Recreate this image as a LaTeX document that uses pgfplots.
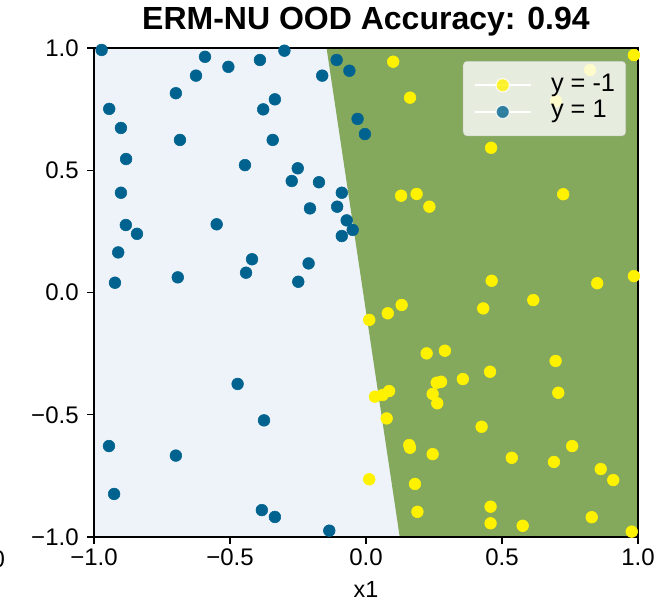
\documentclass[border=0pt]{standalone}
\usepackage{fontspec}
\setmainfont{Liberation Sans}
\usepackage{pgfplots}
\pgfplotsset{compat=1.18}
\definecolor{lightreg}{RGB}{238,243,250}
\definecolor{greenreg}{RGB}{132,168,92}
\definecolor{ptblue}{RGB}{0,99,143}
\definecolor{ptyellow}{RGB}{255,242,0}
\begin{document}
\begin{tikzpicture}
\begin{axis}[
  scale only axis, width=408pt, height=366.75pt,
  xmin=-1, xmax=1, ymin=-1, ymax=1,
  axis background/.style={fill=lightreg},
  axis on top,
  axis line style={line width=0.9pt, black},
  xtick={-1,-0.5,0,0.5,1}, ytick={-1,-0.5,0,0.5,1},
  xticklabels={−1.0,−0.5,0.0,0.5,1.0},
  yticklabels={−1.0,−0.5,0.0,0.5,1.0},
  tick label style={font=\fontsize{18}{21}\selectfont},
  yticklabel style={xshift=-3pt},
  tick align=outside, xtick pos=left, ytick pos=left,
  major tick length=5pt,
  tick style={black, line width=0.9pt},
  xlabel={x1},
  xlabel style={at={(axis description cs:0.5,0)}, anchor=base, yshift=-45pt, font=\fontsize{17.5}{20}\selectfont},
  title={ERM-NU OOD Accuracy: 0.94},
  title style={at={(axis description cs:0.5,1)}, anchor=base, yshift=8.25pt, font=\bfseries\fontsize{24}{28}\selectfont},
  legend style={at={(1,1)}, anchor=north east, xshift=-9pt, yshift=-9.75pt,
    fill=white, fill opacity=0.8, text opacity=1, draw=white!80!black, draw opacity=0.8,
    rounded corners=3pt, font=\fontsize{19}{22}\selectfont,
    inner xsep=8pt, inner ysep=8pt,
    nodes={inner xsep=0pt, inner ysep=1pt, text height=13.5pt, text depth=4.5pt},
    row sep=0pt},
  legend cell align=left,
  legend image code/.code={
    \draw[draw=white, line width=1.3pt, opacity=1] (0pt,0pt) -- (42pt,0pt);
    \draw[#1, mark size=5pt, every mark/.append style={draw=white, line width=0.9pt}] plot coordinates {(21pt,0pt)};
    \path (57pt,0pt);
  },
]
\addplot[fill=greenreg, draw=none, forget plot] coordinates {(0.124,-1) (1,-1) (1,1) (-0.145,1)} -- cycle;

\addplot[only marks, mark=*, color=ptyellow, mark size=4.4pt] coordinates {
(0.100,0.944) (0.985,0.971) (0.824,0.910) (0.162,0.797) (0.699,0.783)
(0.460,0.592) (0.129,0.396) (0.186,0.403) (0.233,0.351) (0.725,0.402)
(0.462,0.048) (0.850,0.038) (0.985,0.067) (0.012,-0.112) (0.080,-0.085)
(0.131,-0.051) (0.431,-0.065) (0.615,-0.031) (0.223,-0.249) (0.290,-0.238)
(0.697,-0.280) (0.456,-0.324) (0.356,-0.354) (0.260,-0.369) (0.276,-0.365)
(0.245,-0.415) (0.262,-0.453) (0.033,-0.426) (0.061,-0.419) (0.085,-0.403)
(0.707,-0.410) (0.076,-0.515) (0.425,-0.549) (0.159,-0.624) (0.162,-0.635)
(0.245,-0.661) (0.536,-0.676) (0.691,-0.693) (0.758,-0.628) (0.863,-0.722)
(0.909,-0.767) (0.012,-0.764) (0.180,-0.783) (0.189,-0.897) (0.458,-0.876)
(0.458,-0.944) (0.576,-0.954) (0.830,-0.919) (0.977,-0.978)
};
\addlegendentry{y = -1}

\addplot[only marks, mark=*, color=ptblue, mark size=4.4pt] coordinates {
(-0.972,0.992) (-0.592,0.964) (-0.506,0.923) (-0.390,0.951) (-0.300,0.989)
(-0.108,0.951) (-0.061,0.907) (-0.625,0.887) (-0.161,0.887) (-0.699,0.815)
(-0.335,0.790) (-0.378,0.749) (-0.944,0.751) (-0.901,0.673) (-0.031,0.710)
(-0.004,0.648) (-0.684,0.624) (-0.343,0.624) (-0.882,0.546) (-0.445,0.521)
(-0.251,0.508) (-0.273,0.456) (-0.173,0.451) (-0.901,0.408) (-0.089,0.408)
(-0.206,0.344) (-0.106,0.351) (-0.071,0.295) (-0.049,0.256) (-0.089,0.231)
(-0.883,0.276) (-0.842,0.240) (-0.549,0.279) (-0.911,0.164) (-0.419,0.136)
(-0.211,0.119) (-0.441,0.081) (-0.692,0.062) (-0.923,0.040) (-0.249,0.044)
(-0.472,-0.374) (-0.375,-0.523) (-0.945,-0.628) (-0.699,-0.667) (-0.926,-0.824)
(-0.383,-0.890) (-0.335,-0.918) (-0.135,-0.974)
};
\addlegendentry{y = 1}
\end{axis}
\node[anchor=base east, font=\fontsize{18}{21}\selectfont, inner sep=0pt] at (-66.5pt,-22.5pt) {1.0};
\pgfresetboundingbox
\path[use as bounding box] (-70.5pt,-48pt) rectangle (429.75pt,402.75pt);
\end{tikzpicture}
\end{document}
